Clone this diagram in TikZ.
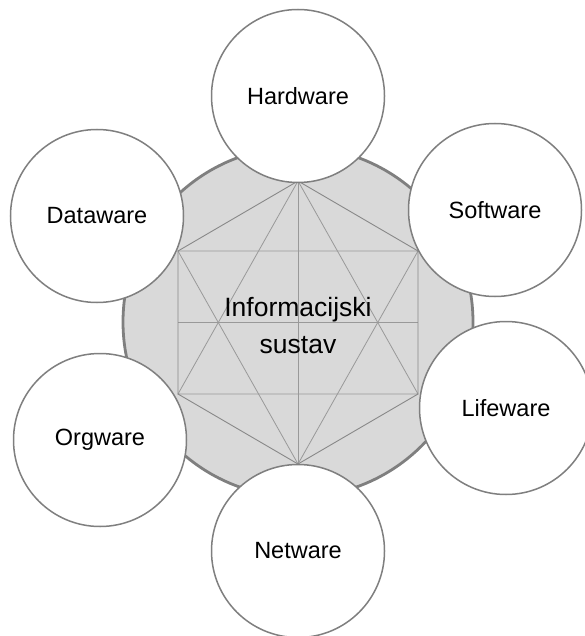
\documentclass[tikz,border=0pt]{standalone}
\usepackage{fontspec}
\setmainfont{Liberation Sans}
\usepackage{tikz}
\usetikzlibrary{positioning}

\definecolor{coregray}{HTML}{D9D9D9}
\definecolor{rimgray}{HTML}{7F7F7F}
\definecolor{linegray}{HTML}{999999}
\definecolor{edgegray}{HTML}{888888}

\tikzset{
    ware/.style={circle, draw=rimgray, line width=1.5pt, fill=white, minimum size=173pt, inner sep=0pt,
        font=\fontsize{23.5}{28}\selectfont},
    hexline/.style={draw=linegray, line width=0.8pt},
    hexedge/.style={draw=edgegray, line width=0.9pt}
}

\begin{document}
\begin{tikzpicture}[x=1pt, y=-1pt]
    \useasboundingbox (0,0) rectangle (584,636);

    % Core disc
    \fill[coregray, draw=rimgray, line width=2.8pt] (298,322) circle (175pt);

    % Hexagon corners
    \coordinate (top) at (298,181);
    \coordinate (ul) at (178,251);
    \coordinate (ur) at (418,251);
    \coordinate (ll) at (178,394);
    \coordinate (lr) at (418,394);
    \coordinate (bot) at (298,464);
    \coordinate (midl) at (178,322.5);
    \coordinate (midr) at (418,322.5);

    % Hexagon and star
    \draw[hexline] (top) -- (ll) -- (lr) -- cycle;
    \draw[hexline] (bot) -- (ul) -- (ur) -- cycle;
    \draw[hexline] (top) -- (bot);
    \draw[hexline] (midl) -- (midr);
    \draw[hexedge] (top) -- (ur) -- (lr) -- (bot) -- (ll) -- (ul) -- cycle;

    \node[align=center, font=\fontsize{26.5}{37}\selectfont] (sys) at (298,326) {Informacijski\\sustav};

    % Outer components
    \node[ware] (hw) at (298,96) {Hardware};
    \node[ware] (sw) at (495,210) {Software};
    \node[ware] (lw) at (506,408) {Lifeware};
    \node[ware] (nw) at (298,551) {Netware};
    \node[ware] (ow) at (100,440) {Orgware};
    \node[ware] (dw) at (97,216) {Dataware};
\end{tikzpicture}
\end{document}
